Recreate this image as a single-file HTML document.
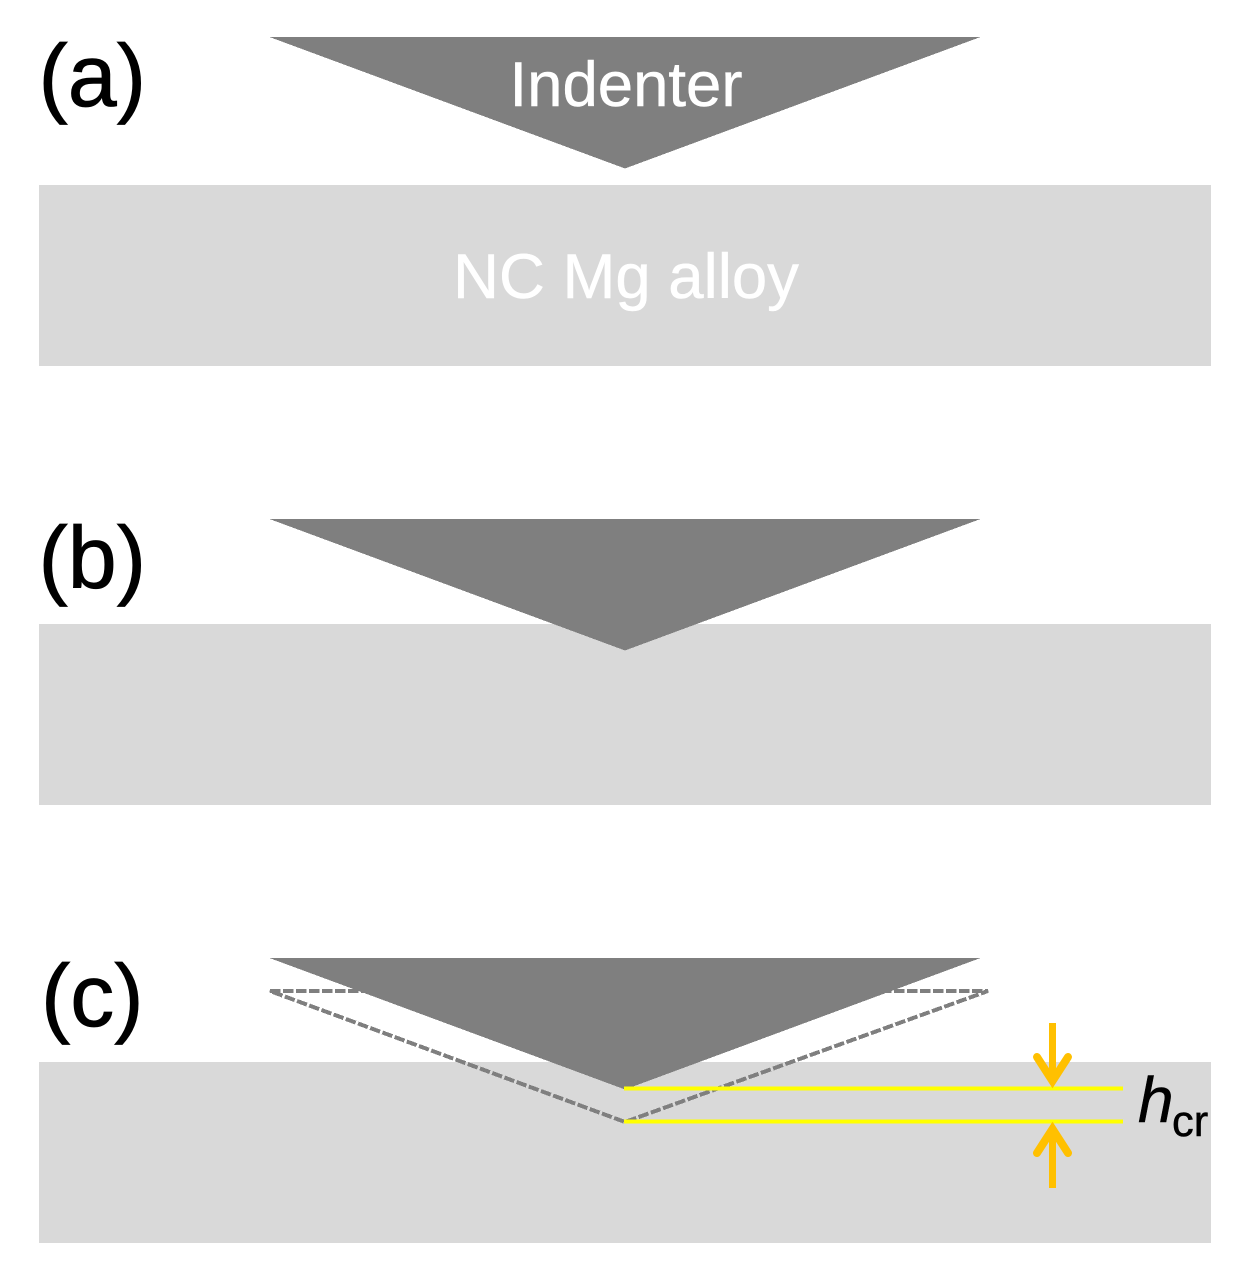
<!DOCTYPE html>
<html>
<head>
<meta charset="utf-8">
<style>
html,body{margin:0;padding:0;background:#fff;width:1241px;height:1272px;overflow:hidden}
svg{display:block}
text{font-family:"Liberation Sans",Arial,sans-serif}
</style>
</head>
<body>
<svg width="1241" height="1272" viewBox="0 0 1241 1272" xmlns="http://www.w3.org/2000/svg">
<g shape-rendering="crispEdges">
<rect x="39" y="185" width="1172" height="181" fill="#d9d9d9"/>
<rect x="39" y="624" width="1172" height="181" fill="#d9d9d9"/>
<rect x="39" y="1062" width="1172" height="181" fill="#d9d9d9"/>

<polygon points="269.5,37 980.5,37 625,168.5" fill="#7f7f7f"/>
<polygon points="269.5,519 980.5,519 625,650.5" fill="#7f7f7f"/>

<polygon points="270,991 988,991 625,1122" fill="none" stroke="#7f7f7f" stroke-width="4" stroke-dasharray="10.5 2.5"/>
<polygon points="269.5,958 980.5,958 625,1089.5" fill="#7f7f7f"/>
</g>

<text x="626" y="106" font-size="63.5" fill="#fff" stroke="#fff" stroke-width="0.5" text-anchor="middle">Indenter</text>
<text x="626" y="298" font-size="63.5" fill="#fff" stroke="#fff" stroke-width="0.5" text-anchor="middle">NC Mg alloy</text>

<text x="38.5" y="106" font-size="88" fill="#000" stroke="#000" stroke-width="0.8">(a)</text>
<text x="38.5" y="588" font-size="88" fill="#000" stroke="#000" stroke-width="0.8">(b)</text>
<text x="41" y="1026" font-size="88" fill="#000" stroke="#000" stroke-width="0.8">(c)</text>

<g shape-rendering="crispEdges">
<line x1="624" y1="1088.5" x2="1123" y2="1088.5" stroke="#ffff00" stroke-width="4"/>
<line x1="624" y1="1121.5" x2="1123" y2="1121.5" stroke="#ffff00" stroke-width="4"/>
</g>

<g fill="none" stroke="#ffc000">
<line x1="1052.5" y1="1023" x2="1052.5" y2="1082" stroke-width="7"/>
<polyline points="1037,1057 1052.5,1081 1068,1057" stroke-width="8" stroke-linecap="round" stroke-linejoin="miter"/>
<line x1="1052.5" y1="1129" x2="1052.5" y2="1188" stroke-width="7"/>
<polyline points="1037,1153 1052.5,1129 1068,1153" stroke-width="8" stroke-linecap="round" stroke-linejoin="miter"/>
</g>

<text x="1138" y="1122" font-size="64" font-style="italic" fill="#000" stroke="#000" stroke-width="0.5">h</text>
<text x="1172" y="1136" font-size="43.5" fill="#000" stroke="#000" stroke-width="0.5">cr</text>
</svg>
</body>
</html>
